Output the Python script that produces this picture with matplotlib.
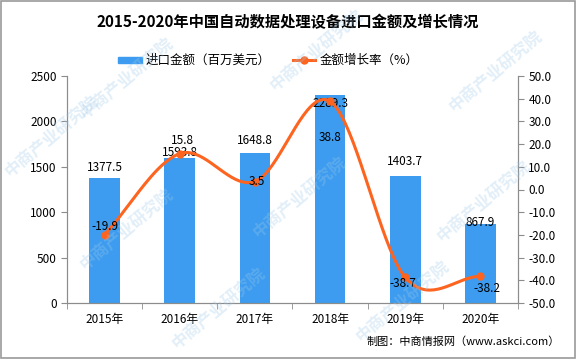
import numpy as np
import matplotlib
matplotlib.use('Agg')
import matplotlib.pyplot as plt
from matplotlib.patches import Rectangle
from matplotlib.lines import Line2D

plt.rcParams['font.family'] = ['Noto Sans CJK SC', 'DejaVu Sans']
plt.rcParams['axes.unicode_minus'] = False

# 数据
years = ['2015年', '2016年', '2017年', '2018年', '2019年', '2020年']
amount = [1377.5, 1593.8, 1648.8, 2289.3, 1403.7, 867.9]
growth = [-19.9, 15.8, 3.5, 38.8, -38.7, -38.2]

# 标签偏移（像素）
bar_label_dy = [10, 6, 13, -8, 14, 2]
line_label_dx = [0, 3, 2, 0, -2, 7]
line_label_dy = [8, 13, 0, -36, -6, -12]

bar_color = '#3d9cf0'
line_color = '#fd6420'
axis_color = '#8c8c8c'

fig = plt.figure(figsize=(5.76, 3.59), dpi=100)
ax = fig.add_axes([67 / 576, 1 - 303 / 359, 451 / 576, 227 / 359])
ax2 = ax.twinx()

x = np.arange(len(years))
ax.bar(x, amount, width=0.41, color=bar_color, zorder=2)
ax.set_xlim(-0.5, len(years) - 0.5)
ax.set_ylim(0, 2500)
ax.set_yticks(range(0, 2501, 500))
ax.set_xticks(x)
ax.set_xticklabels(years, fontsize=8.5)
ax.set_xticks(np.arange(-0.5, len(years), 1), minor=True)
ax.tick_params(axis='x', which='major', length=0, pad=7)
ax.tick_params(axis='x', which='minor', length=4, color=axis_color)
ax.tick_params(axis='y', length=4, color=axis_color, labelsize=8.5)

# 平滑曲线（Catmull-Rom）
pts = np.column_stack([x, growth]).astype(float)
ext = np.vstack([pts[0] - (pts[1] - pts[0]), pts, pts[-1] + (pts[-1] - pts[-2])])
cx, cy = [], []
for i in range(1, len(ext) - 2):
    p0, p1, p2, p3 = ext[i - 1], ext[i], ext[i + 1], ext[i + 2]
    t = np.linspace(0, 1, 40)[:, None]
    seg = 0.5 * ((2 * p1) + (-p0 + p2) * t + (2 * p0 - 5 * p1 + 4 * p2 - p3) * t ** 2
                 + (-p0 + 3 * p1 - 3 * p2 + p3) * t ** 3)
    cx.extend(seg[:, 0])
    cy.extend(seg[:, 1])
ax2.plot(cx, cy, color=line_color, lw=2.2, zorder=3)
ax2.plot(x, growth, 'o', color=line_color, ms=5, zorder=4)
ax2.set_ylim(-50, 50)
ax2.set_yticks(range(-50, 51, 10))
ax2.set_yticklabels([f'{v:.1f}' for v in range(-50, 51, 10)])
ax2.tick_params(axis='y', length=4, color=axis_color, labelsize=8.5)

for a in (ax, ax2):
    a.spines['top'].set_visible(False)
    for s in ('left', 'right', 'bottom'):
        a.spines[s].set_color(axis_color)

for i, v in enumerate(amount):
    ax.annotate(f'{v}', (x[i], v), xytext=(0, bar_label_dy[i]), textcoords='offset pixels',
                ha='center', va='center', fontsize=8.5, zorder=5)
for i, v in enumerate(growth):
    ax2.annotate(f'{v}', (x[i], v), xytext=(line_label_dx[i], line_label_dy[i]),
                 textcoords='offset pixels', ha='center', va='center', fontsize=8.5, zorder=5)

# 标题和图例
fig.text(0.5, 1 - 22 / 359, '2015-2020年中国自动数据处理设备进口金额及增长情况',
         ha='center', va='center', fontsize=11, fontweight='bold')
fig.patches.append(Rectangle((118 / 576, 1 - 63 / 359), 24 / 576, 6 / 359,
                             transform=fig.transFigure, color=bar_color))
fig.text(146 / 576, 1 - 60 / 359, '进口金额（百万美元）', va='center', fontsize=9)
fig.lines.append(Line2D([293 / 576, 315 / 576], [1 - 60 / 359] * 2, transform=fig.transFigure,
                        color=line_color, lw=2.2))
fig.lines.append(Line2D([304 / 576], [1 - 60 / 359], transform=fig.transFigure,
                        color=line_color, marker='o', ms=5))
fig.text(320 / 576, 1 - 60 / 359, '金额增长率（%）', va='center', fontsize=9)

fig.text(560 / 576, 1 - 342 / 359, '制图：中商情报网（www.askci.com）', ha='right', va='center',
         fontsize=8)

# 水印
for wx, wy in [(0.22, 0.78), (0.55, 0.86), (0.86, 0.80), (0.22, 0.36),
               (0.52, 0.45), (0.84, 0.44), (0.09, 0.62), (0.38, 0.14), (0.70, 0.16)]:
    fig.text(wx, wy, '中商产业研究院', rotation=40, ha='center', va='center', fontsize=12,
             fontweight='bold', color='#9ec9e8', alpha=0.3, zorder=10)

fig.patches.append(Rectangle((0.001, 0.002), 0.997, 0.996, transform=fig.transFigure,
                             fill=False, edgecolor='#9a9a9a', lw=1.2))

plt.savefig('out.png', dpi=100)
